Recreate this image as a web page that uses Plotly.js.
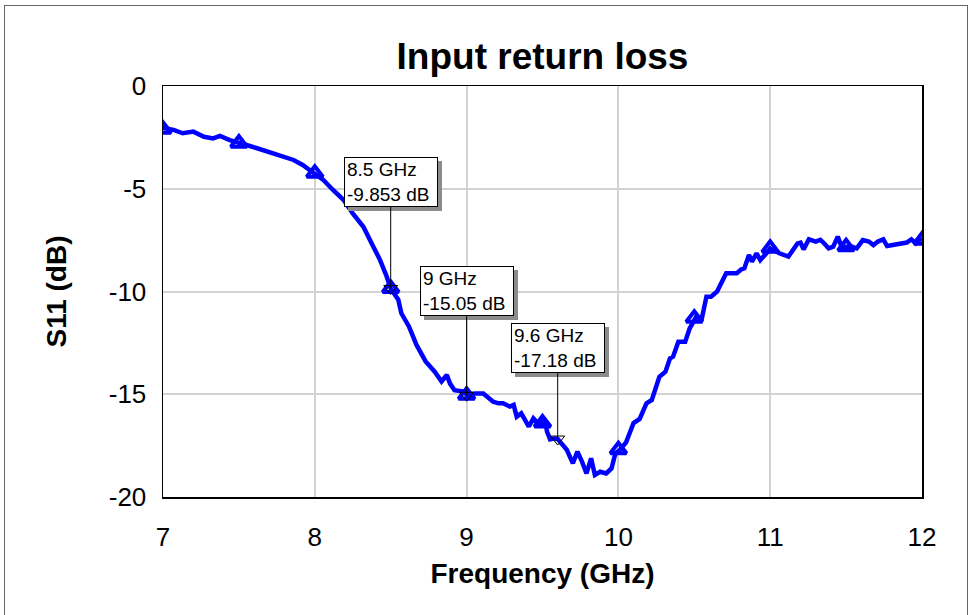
<!DOCTYPE html>
<html>
<head>
<meta charset="utf-8">
<script src="https://cdn.plot.ly/plotly-3.0.1.min.js"></script>
<style>
  html, body { margin: 0; padding: 0; background: #fff; }
  #wrap { position: relative; width: 969px; height: 615px; overflow: hidden; }
  #chart { width: 969px; height: 615px; }
  #frame { position: absolute; left: 4px; top: 5px; width: 962px; height: 640px; border: 1px solid #666; pointer-events: none; }
</style>
</head>
<body>
<div id="wrap"><div id="chart"></div><div id="frame"></div></div>
<script>
// Measured S11 trace (frequency in GHz, S11 in dB)
const freq = [7.00,7.01,7.07,7.13,7.20,7.27,7.33,7.375,7.44,7.50,7.55,7.62,7.68,7.75,7.81,7.86,7.92,8.00,
  8.056,8.12,8.19,8.25,8.32,8.375,8.43,8.47,8.50,8.55,8.57,8.62,8.67,8.73,8.79,8.835,8.87,8.89,8.92,8.99,
  9.00,9.055,9.11,9.175,9.21,9.24,9.285,9.31,9.33,9.36,9.41,9.44,9.48,9.515,9.53,9.55,9.58,9.60,9.66,9.70,
  9.73,9.76,9.79,9.82,9.845,9.88,9.92,9.955,9.98,10.01,10.05,10.10,10.14,10.185,10.22,10.27,10.31,10.34,
  10.36,10.395,10.44,10.47,10.51,10.55,10.58,10.61,10.65,10.71,10.78,10.81,10.83,10.86,10.88,10.91,10.935,
  10.975,11.00,11.06,11.12,11.18,11.20,11.22,11.255,11.30,11.33,11.35,11.385,11.415,11.445,11.47,11.54,
  11.57,11.61,11.65,11.68,11.71,11.745,11.77,11.85,11.90,11.93,11.96,12.00];
const s11 = [-1.95,-2.06,-2.14,-2.30,-2.22,-2.47,-2.55,-2.43,-2.63,-2.79,-2.87,-3.03,-3.16,-3.33,-3.49,-3.60,-3.84,-4.25,
  -4.57,-5.06,-5.55,-6.20,-6.85,-7.66,-8.47,-9.20,-9.853,-10.40,-11.06,-11.70,-12.60,-13.40,-13.90,-14.38,-14.06,-14.47,-14.80,-14.88,
  -15.05,-14.96,-14.96,-15.36,-15.44,-15.44,-15.60,-15.52,-16.09,-15.93,-16.57,-16.17,-16.50,-16.25,-16.82,-17.20,-17.15,-17.18,-17.70,-18.36,
  -17.79,-18.28,-18.85,-18.12,-18.93,-18.77,-18.85,-18.60,-17.88,-17.70,-17.35,-16.40,-16.20,-15.44,-15.28,-14.15,-13.90,-13.25,
  -13.17,-12.44,-12.44,-11.79,-11.26,-11.30,-10.25,-10.25,-10.00,-9.11,-9.11,-8.92,-8.87,-8.22,-8.55,-8.14,-8.47,
  -8.14,-7.90,-8.14,-8.30,-7.66,-7.62,-7.95,-7.46,-7.57,-7.49,-7.62,-7.90,-7.82,-7.33,-7.82,-7.82,
  -7.90,-7.50,-7.57,-7.74,-7.57,-7.46,-7.79,-7.66,-7.62,-7.46,-7.66,-7.40];

// Trace symbols every 0.5 GHz
const symFreq = [7, 7.5, 8, 8.5, 9, 9.5, 10, 10.5, 11, 11.5, 12];
const symS11  = [-2.1, -2.78, -4.25, -9.853, -15.05, -16.4, -17.7, -11.3, -7.9, -7.82, -7.5];

// Marker readouts
const mkFreq = [8.5, 9, 9.6];
const mkS11  = [-9.853, -15.05, -17.18];
const mkText = ['8.5 GHz<br>-9.853 dB', '9 GHz<br>-15.05 dB', '9.6 GHz<br>-17.18 dB'];
const mkOffset = [-106, -104, -91];

const xTicks = [7, 8, 9, 10, 11, 12];
const yTicks = [0, -5, -10, -15, -20];

const FONT = '"Liberation Sans", Arial, Helvetica, sans-serif';

const traces = [
  { x: freq, y: s11, type: 'scatter', mode: 'lines',
    line: { color: '#0000ff', width: 4.5 }, hoverinfo: 'skip' },
  { x: symFreq, y: symS11, type: 'scatter', mode: 'markers',
    marker: { symbol: 'triangle-up-open', size: 14, color: '#0000ff', line: { color: '#0000ff', width: 4 } },
    hoverinfo: 'skip' },
  { x: mkFreq, y: mkS11, type: 'scatter', mode: 'markers',
    marker: { symbol: 'triangle-down-open', size: 12, color: '#000', line: { color: '#000', width: 1 } },
    hoverinfo: 'skip' }
];

const annotations = [];
mkFreq.forEach((f, i) => {
  const common = { x: f, y: mkS11[i], xref: 'x', yref: 'y', showarrow: true,
    ax: 0, ay: mkOffset[i], arrowhead: 0, arrowwidth: 1, standoff: 0, startstandoff: 0,
    align: 'left', width: 88, height: 44, borderpad: 2, borderwidth: 1,
    font: { family: FONT, size: 19, color: '#000' } };
  // drop shadow box (no text)
  annotations.push(Object.assign({}, common, {
    text: '&nbsp;', xshift: 4, yshift: -4, bgcolor: '#8c8c8c', bordercolor: '#8c8c8c',
    arrowcolor: 'rgba(0,0,0,0)' }));
  annotations.push(Object.assign({}, common, {
    text: mkText[i], bgcolor: '#ffffff', bordercolor: '#000', arrowcolor: '#000' }));
});

const layout = {
  width: 969, height: 615,
  margin: { l: 163, r: 47, t: 86, b: 118 },
  paper_bgcolor: '#ffffff', plot_bgcolor: '#ffffff',
  showlegend: false,
  font: { family: FONT, color: '#000' },
  title: { text: '<b>Input return loss</b>', font: { family: FONT, size: 37, color: '#000' },
    x: 0.5, xref: 'paper', y: 1 - 56 / 615, yref: 'container', yanchor: 'middle' },
  xaxis: {
    range: [7, 12], tickvals: xTicks, ticktext: xTicks.map(String),
    showgrid: true, gridcolor: '#d3d3d3', gridwidth: 2,
    showline: true, linecolor: '#000', linewidth: 1.5, mirror: true,
    ticks: '', ticklabelstandoff: 16, zeroline: false,
    tickfont: { family: FONT, size: 26, color: '#000' },
    title: { text: '<b>Frequency (GHz)</b>', font: { family: FONT, size: 28, color: '#000' }, standoff: 12 }
  },
  yaxis: {
    range: [-20, 0], tickvals: yTicks, ticktext: yTicks.map(String),
    showgrid: true, gridcolor: '#d3d3d3', gridwidth: 2,
    showline: true, linecolor: '#000', linewidth: 1.5, mirror: true,
    ticks: '', ticklabelstandoff: 10, zeroline: false,
    tickfont: { family: FONT, size: 26, color: '#000' },
    title: { text: '<b>S11 (dB)</b>', font: { family: FONT, size: 28, color: '#000' }, standoff: 34 }
  },
  annotations: annotations
};

Plotly.newPlot('chart', traces, layout, { staticPlot: true, displayModeBar: false });
</script>
</body>
</html>
